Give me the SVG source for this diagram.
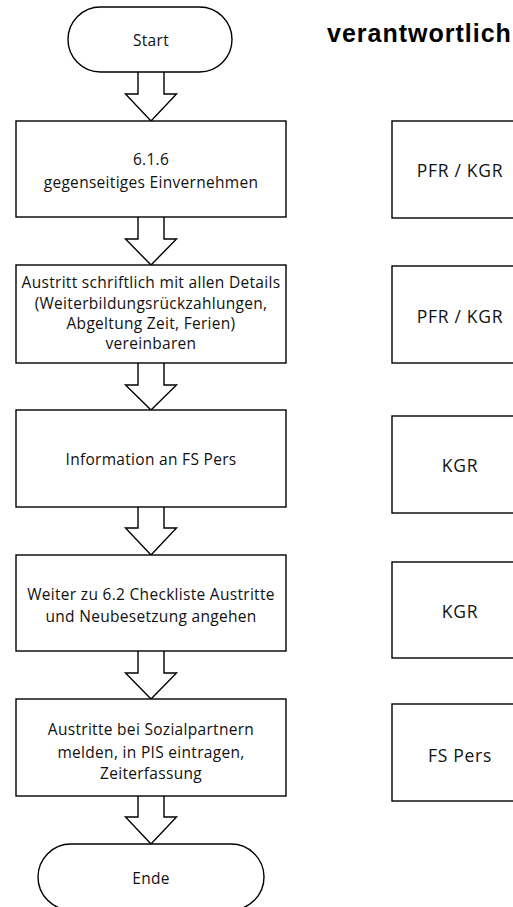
<svg xmlns="http://www.w3.org/2000/svg" width="513" height="907" viewBox="0 0 513 907">
  <style>
    .shape { fill: #ffffff; stroke: #000000; stroke-width: 1.4; }
    .arrow { fill: #ffffff; stroke: #000000; stroke-width: 1.4; stroke-linejoin: miter; }
    .lbl { font-family: "Open Sans", "Noto Sans", sans-serif; font-size: 15.5px; letter-spacing: 0.3px; fill: #111111; text-anchor: middle; }
    .role { font-family: "Open Sans", "Noto Sans", sans-serif; font-size: 17.5px; letter-spacing: 0.7px; fill: #111111; text-anchor: middle; }
    .head { font-family: "Liberation Sans", Arial, sans-serif; font-size: 25px; font-weight: bold; fill: #000000; letter-spacing: 1px; }
  </style>
  <rect width="513" height="907" fill="#ffffff"/>

  <text class="head" x="327" y="42">verantwortlich</text>

  <!-- flow arrows (block arrows between steps) -->
  <g id="connectors">
    <path class="arrow" d="M138,72 V94 H125.5 L151,121 L176.5,94 H164 V72"/>
    <path class="arrow" d="M138,217 V239 H125.5 L151,265 L176.5,239 H164 V217"/>
    <path class="arrow" d="M138,363 V385 H125.5 L151,410 L176.5,385 H164 V363"/>
    <path class="arrow" d="M138,507 V528 H125.5 L151,555 L176.5,528 H164 V507"/>
    <path class="arrow" d="M138,651 V673 H125.5 L151,699 L176.5,673 H164 V651"/>
    <path class="arrow" d="M138,796 V817 H125.5 L151,844 L176.5,817 H164 V796"/>
  </g>

  <g id="start">
    <rect class="shape" x="68" y="7" width="164" height="65" rx="32.5" ry="32.5"/>
    <text class="lbl" x="151" y="46">Start</text>
  </g>

  <g id="step1">
    <rect class="shape" x="16" y="121" width="270" height="96"/>
    <text class="lbl" x="151" y="165">6.1.6</text>
    <text class="lbl" x="151" y="188">gegenseitiges Einvernehmen</text>
  </g>

  <g id="step2">
    <rect class="shape" x="16" y="265" width="270" height="98"/>
    <text class="lbl" x="151" y="288">Austritt schriftlich mit allen Details</text>
    <text class="lbl" x="151" y="308.5">(Weiterbildungsrückzahlungen,</text>
    <text class="lbl" x="151" y="329">Abgeltung Zeit, Ferien)</text>
    <text class="lbl" x="151" y="349">vereinbaren</text>
  </g>

  <g id="step3">
    <rect class="shape" x="16" y="410" width="270" height="97"/>
    <text class="lbl" x="151" y="465">Information an FS Pers</text>
  </g>

  <g id="step4">
    <rect class="shape" x="16" y="555" width="270" height="96"/>
    <text class="lbl" x="151" y="600">Weiter zu 6.2 Checkliste Austritte</text>
    <text class="lbl" x="151" y="622">und Neubesetzung angehen</text>
  </g>

  <g id="step5">
    <rect class="shape" x="16" y="699" width="270" height="97"/>
    <text class="lbl" x="151" y="735">Austritte bei Sozialpartnern</text>
    <text class="lbl" x="151" y="758">melden, in PIS eintragen,</text>
    <text class="lbl" x="151" y="779">Zeiterfassung</text>
  </g>

  <g id="end">
    <rect class="shape" x="38" y="844" width="226" height="66" rx="33" ry="33"/>
    <text class="lbl" x="151" y="884">Ende</text>
  </g>

  <g id="role1">
    <rect class="shape" x="392" y="121" width="136" height="97"/>
    <text class="role" x="460" y="177">PFR / KGR</text>
  </g>
  <g id="role2">
    <rect class="shape" x="392" y="266" width="136" height="97"/>
    <text class="role" x="460" y="323">PFR / KGR</text>
  </g>
  <g id="role3">
    <rect class="shape" x="392" y="416" width="136" height="97"/>
    <text class="role" x="460" y="472">KGR</text>
  </g>
  <g id="role4">
    <rect class="shape" x="392" y="562" width="136" height="96"/>
    <text class="role" x="460" y="618">KGR</text>
  </g>
  <g id="role5">
    <rect class="shape" x="392" y="704" width="136" height="97"/>
    <text class="role" x="460" y="762">FS Pers</text>
  </g>
</svg>
